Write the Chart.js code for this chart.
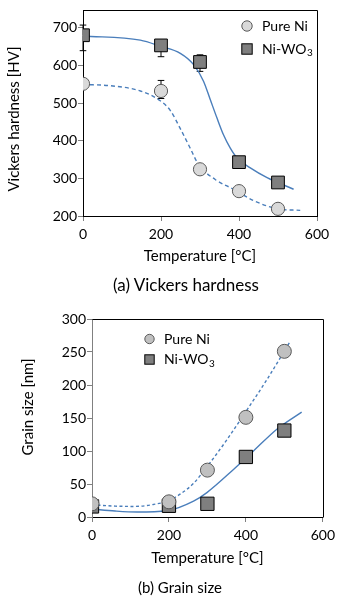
<!DOCTYPE html>
<html lang="en">
<head>
<meta charset="UTF-8">
<title>Vickers hardness and grain size</title>
<script src="https://cdn.jsdelivr.net/npm/chart.js@4.4.1/dist/chart.umd.min.js"></script>
<style>
  body { margin: 0; background: #fff; }
  #page { position: relative; width: 340px; height: 599px; overflow: hidden; }
  .box { position: absolute; left: 0; width: 340px; }
  .caption { position: absolute; width: 340px; text-align: center; line-height: 1.2; font-family: Lato, sans-serif; color: #000; white-space: nowrap; }
</style>
</head>
<body>
<div id="page">
  <div class="box" style="top:0;height:300px"><canvas id="hardness" width="340" height="300"></canvas></div>
  <div class="box" style="top:300px;height:299px"><canvas id="grain" width="340" height="299"></canvas></div>
  <div class="caption" style="top:275px;left:16px;font-size:17px">(a) Vickers hardness</div>
  <div class="caption" style="top:578px;left:10px;font-size:15px">(b) Grain size</div>
</div>

<script>
// measured points (temperature in degC)
const temps = [0, 200, 300, 400, 500];

// (a) Vickers hardness [HV]
const hvPureNi = [551, 532, 324, 266, 219];
const hvNiWO3 = [680, 653, 609, 343, 289];
const hvPureNiUp = [0, 28, 0, 0, 0];
const hvPureNiDown = [0, 20, 0, 0, 0];
const hvNiWO3Up = [27, 10, 19, 0, 0];
const hvNiWO3Down = [41, 30, 25, 0, 0];

// trend curves
const hvFitNiWO3T = [0, 147, 198, 249.5, 283.6, 309, 326, 343.6, 360.5, 377.7, 395, 429, 472, 540];
const hvFitNiWO3 = [678, 667, 651, 632, 602, 558, 510, 460, 415, 380, 354, 328, 302, 271];
const hvFitPureNiT = [0, 70, 147, 198, 224, 249.5, 275, 296, 339, 386, 437, 500, 557];
const hvFitPureNi = [549, 546, 532, 506, 480, 432, 380, 337, 297, 271, 241, 219, 215];

// (b) Grain size [nm]
const gsPureNi = [20, 23, 71, 151, 251];
const gsNiWO3 = [16, 17, 20, 91, 131];
const gsFitPureNiT = [0, 60, 110, 160, 200, 230, 264, 298.7, 350.6, 402.6, 454.5, 515];
const gsFitPureNi = [18.5, 16.5, 16, 19, 25, 35, 51, 76, 117, 162, 208, 266];
const gsFitNiWO3T = [0, 60, 117, 195, 264, 298.7, 367.8, 419.7, 480.5, 545];
const gsFitNiWO3 = [12, 9, 7.5, 9.5, 24, 37, 72, 100, 133, 159];

// tick labels
const tempTicks = [0, 200, 400, 600];
const hvTicks = [200, 300, 400, 500, 600, 700];
const gsTicks = [0, 50, 100, 150, 200, 250, 300];

const FIT_BLUE = '#4a7ebb';
Chart.defaults.font.family = 'Lato, sans-serif';
Chart.defaults.color = '#000';

function pts(xs, ys) {
  return xs.map((x, i) => ({ x: x, y: ys[i] }));
}

// error bars, drawn under the markers
const errorBars = {
  id: 'errorBars',
  beforeDatasetsDraw(chart) {
    const ctx = chart.ctx;
    const yScale = chart.scales.y;
    chart.data.datasets.forEach((ds, i) => {
      if (!ds.errUp) return;
      const meta = chart.getDatasetMeta(i);
      meta.data.forEach((el, j) => {
        const v = ds.data[j].y;
        const ends = [];
        if (ds.errUp[j] > 0) ends.push(yScale.getPixelForValue(v + ds.errUp[j]));
        if (ds.errDown[j] > 0) ends.push(yScale.getPixelForValue(v - ds.errDown[j]));
        ctx.save();
        ctx.strokeStyle = '#000';
        ctx.lineWidth = 1;
        ends.forEach(py => {
          ctx.beginPath();
          ctx.moveTo(el.x, el.y);
          ctx.lineTo(el.x, py);
          ctx.moveTo(el.x - 3.3, py);
          ctx.lineTo(el.x + 3.3, py);
          ctx.stroke();
        });
        ctx.restore();
      });
    });
  }
};

// frame, y title and legend
function decor(cfg) {
  return {
    id: 'decor',
    afterDraw(chart) {
      const ctx = chart.ctx;
      const a = chart.chartArea;
      ctx.save();
      ctx.strokeStyle = '#000';
      ctx.lineWidth = 1;
      ctx.beginPath();
      ctx.moveTo(Math.round(a.left) + 0.5, Math.round(a.top) + 0.5);
      ctx.lineTo(Math.round(a.right) + 0.5, Math.round(a.top) + 0.5);
      ctx.lineTo(Math.round(a.right) + 0.5, Math.round(a.bottom) + 0.5);
      ctx.stroke();

      // y axis title
      ctx.save();
      ctx.translate(cfg.yTitleX, cfg.yTitleY);
      ctx.rotate(-Math.PI / 2);
      ctx.fillStyle = '#000';
      ctx.font = '15px Lato, sans-serif';
      ctx.textAlign = 'center';
      ctx.textBaseline = 'middle';
      ctx.fillText(cfg.yTitle, 0, 0);
      ctx.restore();

      // legend
      const L = cfg.legend;
      ctx.font = L.size + 'px Lato, sans-serif';
      ctx.textBaseline = 'middle';
      ctx.textAlign = 'left';
      ctx.beginPath();
      ctx.arc(L.mx, L.y1, L.r, 0, Math.PI * 2);
      ctx.fillStyle = L.circleFill;
      ctx.fill();
      ctx.strokeStyle = '#595959';
      ctx.stroke();
      ctx.fillStyle = '#7f7f7f';
      ctx.fillRect(L.mx - L.r, L.y2 - L.r, L.r * 2, L.r * 2);
      ctx.strokeStyle = '#000';
      ctx.strokeRect(L.mx - L.r, L.y2 - L.r, L.r * 2, L.r * 2);
      ctx.fillStyle = '#000';
      ctx.fillText('Pure Ni', L.tx, L.y1);
      ctx.fillText('Ni-WO', L.tx, L.y2);
      const w = ctx.measureText('Ni-WO').width;
      ctx.font = (L.size - 4) + 'px Lato, sans-serif';
      ctx.fillText('3', L.tx + w + 0.5, L.y2 + 4);
      ctx.restore();
    }
  };
}

function scatterSet(xs, ys, style, r, fill, border) {
  return {
    data: pts(xs, ys),
    pointStyle: style,
    pointRadius: r,
    pointHoverRadius: r,
    backgroundColor: fill,
    borderColor: border,
    borderWidth: 1,
    showLine: false
  };
}

function fitSet(xs, ys, dash) {
  return {
    data: pts(xs, ys),
    showLine: true,
    borderColor: FIT_BLUE,
    borderWidth: 1.4,
    borderDash: dash,
    pointRadius: 0,
    cubicInterpolationMode: 'monotone',
    fill: false
  };
}

function axes(yMin, yMax, yTicks, yWidth, xHeight, yAxisColor, titlePad) {
  return {
    x: {
      type: 'linear',
      min: 0, max: 600,
      afterBuildTicks: s => { s.ticks = tempTicks.map(v => ({ value: v })); },
      afterFit: s => { s.height = xHeight; },
      grid: { drawOnChartArea: false, drawTicks: true, tickLength: 5, color: '#808080' },
      border: { display: true, color: '#000', width: 1 },
      ticks: { font: { size: 14 }, color: '#000', padding: 5, maxRotation: 0 },
      title: { display: true, text: 'Temperature [°C]', font: { size: 15 }, color: '#000', padding: { top: 0, bottom: titlePad } }
    },
    y: {
      type: 'linear',
      min: yMin, max: yMax,
      afterBuildTicks: s => { s.ticks = yTicks.map(v => ({ value: v })); },
      afterFit: s => { s.width = yWidth; },
      grid: { drawOnChartArea: false, drawTicks: true, tickLength: 5, color: '#808080' },
      border: { display: true, color: yAxisColor, width: 1 },
      ticks: { font: { size: 14 }, color: '#000', padding: 1 }
    }
  };
}

const hardPure = scatterSet(temps, hvPureNi, 'circle', 6.6, '#d9d9d9', '#595959');
hardPure.errUp = hvPureNiUp; hardPure.errDown = hvPureNiDown;
const hardWO3 = scatterSet(temps, hvNiWO3, 'rect', 9, '#7f7f7f', '#000');
hardWO3.errUp = hvNiWO3Up; hardWO3.errDown = hvNiWO3Down;

new Chart(document.getElementById('hardness'), {
  type: 'scatter',
  data: {
    datasets: [
      hardPure,
      hardWO3,
      fitSet(hvFitNiWO3T, hvFitNiWO3, []),
      fitSet(hvFitPureNiT, hvFitPureNi, [4, 3])
    ]
  },
  options: {
    responsive: false,
    animation: false,
    layout: { padding: { top: 6, right: 23, left: 0, bottom: 0 } },
    plugins: { legend: { display: false }, tooltip: { enabled: false } },
    scales: axes(200, 747, hvTicks, 83, 84, '#000', 35)
  },
  plugins: [errorBars, decor({
    yTitle: 'Vickers hardness [HV]', yTitleX: 14, yTitleY: 119,
    legend: { mx: 247, y1: 26, y2: 49, r: 5.2, tx: 262, size: 14, circleFill: '#d9d9d9' }
  })]
});

new Chart(document.getElementById('grain'), {
  type: 'scatter',
  data: {
    datasets: [
      scatterSet(temps, gsPureNi, 'circle', 7, '#c0c0c0', '#595959'),
      scatterSet(temps, gsNiWO3, 'rect', 9.4, '#7f7f7f', '#000'),
      fitSet(gsFitNiWO3T, gsFitNiWO3, []),
      fitSet(gsFitPureNiT, gsFitPureNi, [3, 2.5])
    ]
  },
  options: {
    responsive: false,
    animation: false,
    layout: { padding: { top: 19, right: 17, left: 0, bottom: 0 } },
    plugins: { legend: { display: false }, tooltip: { enabled: false } },
    scales: axes(0, 300, gsTicks, 92, 82, '#808080', 32)
  },
  plugins: [decor({
    yTitle: 'Grain size [nm]', yTitleX: 28, yTitleY: 107,
    legend: { mx: 149.5, y1: 39, y2: 59.5, r: 4.7, tx: 164, size: 14, circleFill: '#c0c0c0' }
  })]
});
</script>
</body>
</html>
